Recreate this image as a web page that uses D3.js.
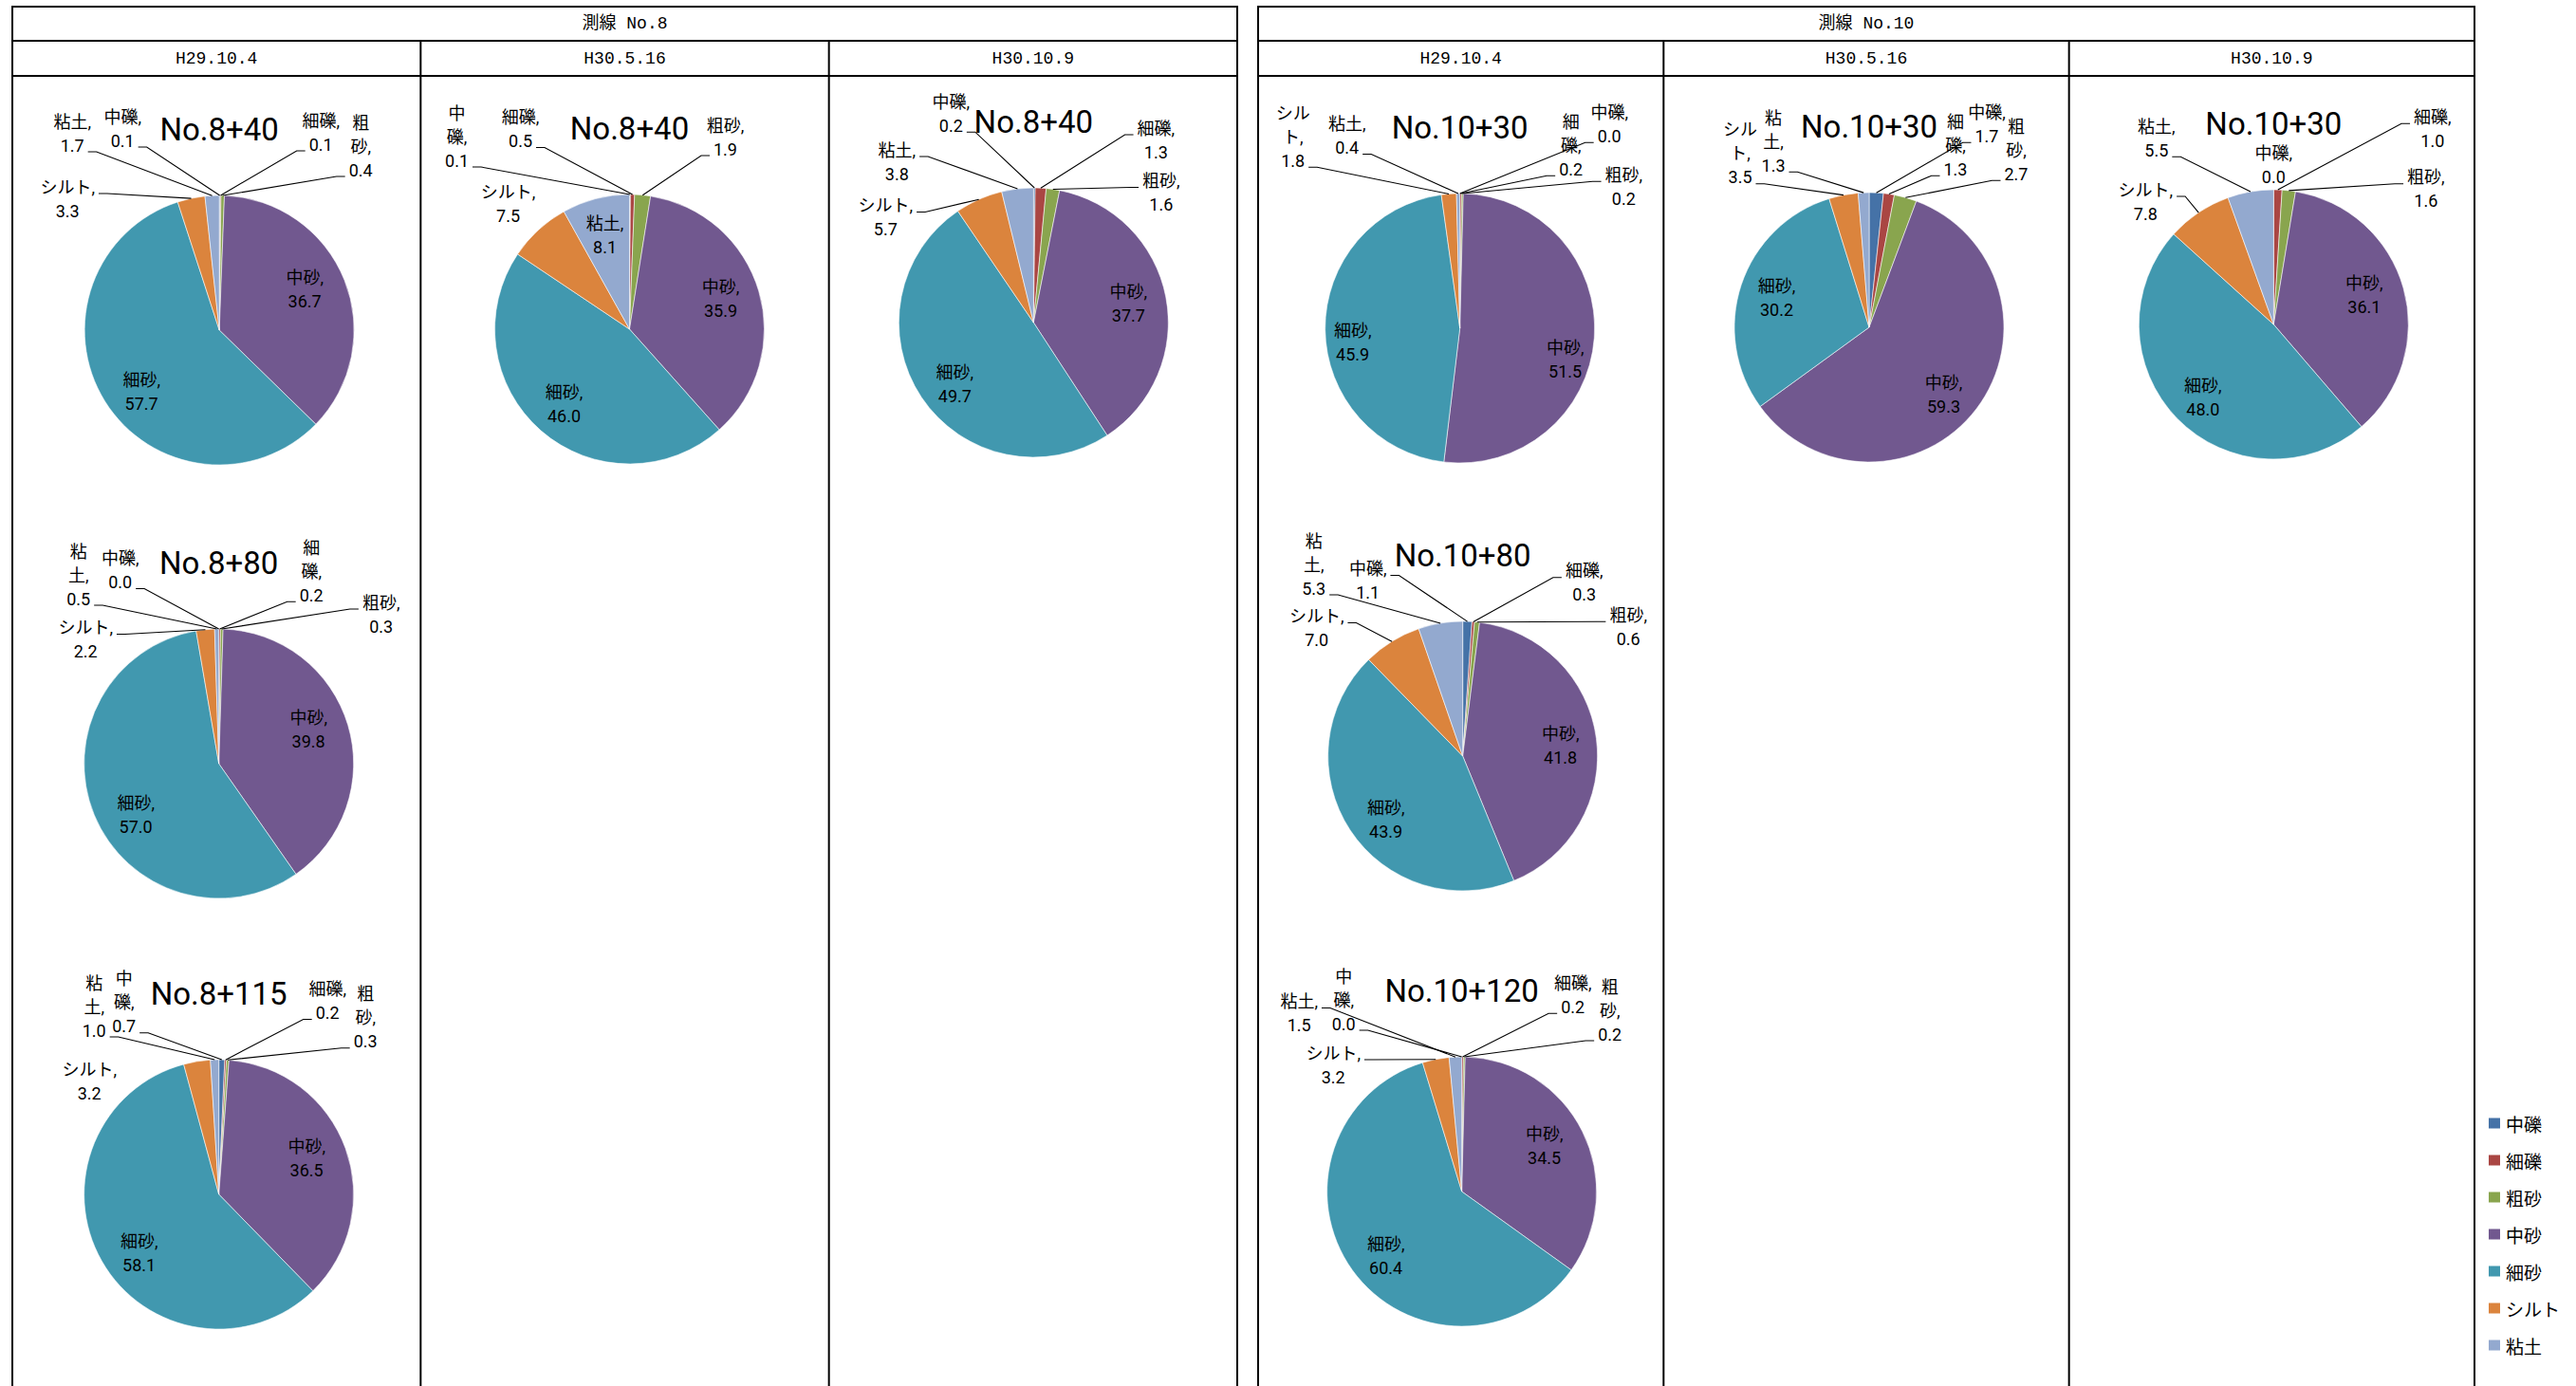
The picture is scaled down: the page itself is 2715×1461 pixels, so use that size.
<!DOCTYPE html>
<html>
<head>
<meta charset="utf-8">
<script src="https://cdn.jsdelivr.net/npm/d3@7"></script>
<style>
  html, body { margin: 0; padding: 0; background: #fff; }
  svg { display: block; }
</style>
</head>
<body>
<svg id="chart" width="2715" height="1461"></svg>
<script>
// ---- categories & series ----------------------------------------------
const categories = ['中礫', '細礫', '粗砂', '中砂', '細砂', 'シルト', '粘土'];
const palette    = ['#4572A7', '#AA4643', '#89A54E', '#71588F', '#4198AF', '#DB843D', '#93A9CF'];
const lineNames  = ['測線 No.8', '測線 No.10'];
const surveyDates = ['H29.10.4', 'H30.5.16', 'H30.10.9'];

// grain-size composition (%), in category order
const no8_40_h29_10  = [0.1, 0.1, 0.4, 36.7, 57.7, 3.3, 1.7];
const no8_40_h30_05  = [0.1, 0.5, 1.9, 35.9, 46.0, 7.5, 8.1];
const no8_40_h30_10  = [0.2, 1.3, 1.6, 37.7, 49.7, 5.7, 3.8];
const no8_80_h29_10  = [0.0, 0.2, 0.3, 39.8, 57.0, 2.2, 0.5];
const no8_115_h29_10 = [0.7, 0.2, 0.3, 36.5, 58.1, 3.2, 1.0];
const no10_30_h29_10 = [0.0, 0.2, 0.2, 51.5, 45.9, 1.8, 0.4];
const no10_30_h30_05 = [1.7, 1.3, 2.7, 59.3, 30.2, 3.5, 1.3];
const no10_30_h30_10 = [0.0, 1.0, 1.6, 36.1, 48.0, 7.8, 5.5];
const no10_80_h29_10 = [1.1, 0.3, 0.6, 41.8, 43.9, 7.0, 5.3];
const no10_120_h29_10 = [0.0, 0.2, 0.2, 34.5, 60.4, 3.2, 1.5];

// ---- label placement (offset from pie centre, wrap name?, leader line row; -1 = no leader)
const lab_no8_40_h29_10 = [[-102,-212.5,0,1],[107,-208.5,0,1],[149,-194,1,2],[90,-43,0,-1],[-82,65,0,-1],[-160,-138.5,0,0],[-155,-207.5,0,1]];
const lab_no8_40_h30_05 = [[-182,-203,1,2],[-115,-211,0,1],[101,-202.5,0,1],[96,-32,0,-1],[-69,79,0,-1],[-128,-132,0,-1],[-26,-99.5,0,-1]];
const lab_no8_40_h30_10 = [[-87,-220.3,0,1],[129,-192.5,0,0],[134.5,-137,0,0],[100,-20.5,0,-1],[-83,65,0,-1],[-156,-111,0,0],[-144,-169.5,0,0]];
const lab_no8_80_h29_10 = [[-104,-204,0,1],[97.5,-202.7,1,2],[171,-157.5,0,0],[94.5,-36,0,-1],[-87.5,54,0,-1],[-140.5,-131,0,0],[-148,-199,1,2]];
const lab_no8_115_h29_10 = [[-100,-202.3,1,2],[114.5,-204,0,1],[154.5,-186.3,1,2],[92.5,-38,0,-1],[-84,62,0,-1],[-136.5,-119,0,-1],[-131.5,-198,1,2]];
const lab_no10_30_h29_10 = [[157.5,-215.2,0,1],[117,-192.7,1,2],[172.7,-149.3,0,0],[111,33,0,-1],[-113,15,0,-1],[-176,-201.7,1,2],[-119,-203,0,1]];
const lab_no10_30_h30_05 = [[124,-214.2,0,1],[91,-191.7,1,2],[155,-186.7,1,2],[78.5,71,0,-1],[-97.5,-31,0,-1],[-136,-183.3,1,2],[-101,-195.8,1,2]];
const lab_no10_30_h30_10 = [[0,-167.8,0,-1],[167.5,-206.2,0,0],[160.5,-142.8,0,0],[95.5,-31,0,-1],[-74.5,77,0,-1],[-135,-129.5,0,0],[-123.5,-196.2,0,1]];
const lab_no10_80_h29_10 = [[-100,-185,0,0],[128,-182.8,0,0],[174.5,-136.2,0,0],[103,-11,0,-1],[-81,67,0,-1],[-154,-135,0,0],[-157,-202,1,2]];
const lab_no10_120_h29_10 = [[-124.5,-202,1,2],[117,-207.2,0,1],[156,-191,1,2],[87,-48.5,0,-1],[-80,68,0,-1],[-135.5,-133.5,0,0],[-171.5,-188,0,0]];

// one entry per pie: survey line, date column, row, nudge of the pie centre
const charts = [
  { title: 'No.8+40',   line: 0, col: 0, row: 0, shift: [3, 3],    values: no8_40_h29_10,  labels: lab_no8_40_h29_10 },
  { title: 'No.8+40',   line: 0, col: 1, row: 0, shift: [5, 2],    values: no8_40_h30_05,  labels: lab_no8_40_h30_05 },
  { title: 'No.8+40',   line: 0, col: 2, row: 0, shift: [0.5, -5], values: no8_40_h30_10,  labels: lab_no8_40_h30_10 },
  { title: 'No.8+80',   line: 0, col: 0, row: 1, shift: [2.5, 4],  values: no8_80_h29_10,  labels: lab_no8_80_h29_10 },
  { title: 'No.8+115',  line: 0, col: 0, row: 2, shift: [2.5, 2],  values: no8_115_h29_10, labels: lab_no8_115_h29_10 },
  { title: 'No.10+30',  line: 1, col: 0, row: 0, shift: [-1, 1],   values: no10_30_h29_10, labels: lab_no10_30_h29_10 },
  { title: 'No.10+30',  line: 1, col: 1, row: 0, shift: [3, 0],    values: no10_30_h30_05, labels: lab_no10_30_h30_05 },
  { title: 'No.10+30',  line: 1, col: 2, row: 0, shift: [2, -3],   values: no10_30_h30_10, labels: lab_no10_30_h30_10 },
  { title: 'No.10+80',  line: 1, col: 0, row: 1, shift: [2, -4],   values: no10_80_h29_10, labels: lab_no10_80_h29_10 },
  { title: 'No.10+120', line: 1, col: 0, row: 2, shift: [1, -1],   values: no10_120_h29_10, labels: lab_no10_120_h29_10 }
];

// ---- layout ----------------------------------------------------------------
const W = 2715, H = 1461;
const tables = [{ x0: 13, x1: 1304 }, { x0: 1326, x1: 2608 }];
const yTop = 7, yHead = 43, yDate = 80;
const rowY = [345, 801, 1257];
const R = 142;
const LH = 25;
const labelFont = 'Roboto, "Noto Sans CJK JP", sans-serif';
const headFont = '"Liberation Mono", "Noto Sans CJK JP", monospace';

const svg = d3.select('#chart');
svg.append('rect').attr('width', W).attr('height', H).attr('fill', '#fff');

const color = d3.scaleOrdinal().domain(categories).range(palette);

// ---- table frames and headings ---------------------------------------------
tables.forEach((t, ti) => {
  const g = svg.append('g').attr('stroke', '#000').attr('stroke-width', 2);
  const colW = (t.x1 - t.x0) / 3;
  g.append('line').attr('x1', t.x0 - 1).attr('x2', t.x1 + 1).attr('y1', yTop).attr('y2', yTop);
  g.append('line').attr('x1', t.x0).attr('x2', t.x1).attr('y1', yHead).attr('y2', yHead);
  g.append('line').attr('x1', t.x0).attr('x2', t.x1).attr('y1', yDate).attr('y2', yDate);
  g.append('line').attr('x1', t.x0).attr('x2', t.x0).attr('y1', yTop).attr('y2', H);
  g.append('line').attr('x1', t.x1).attr('x2', t.x1).attr('y1', yTop).attr('y2', H);
  for (let k = 1; k < 3; k++) {
    const x = t.x0 + colW * k;
    g.append('line').attr('x1', x).attr('x2', x).attr('y1', yHead).attr('y2', H);
  }
  svg.append('text')
    .attr('x', (t.x0 + t.x1) / 2).attr('y', (yTop + yHead) / 2)
    .attr('text-anchor', 'middle').attr('dominant-baseline', 'central')
    .attr('font-family', headFont).attr('font-size', 18)
    .text(lineNames[ti]);
  surveyDates.forEach((d, k) => {
    svg.append('text')
      .attr('x', t.x0 + colW * (k + 0.5)).attr('y', (yHead + yDate) / 2)
      .attr('text-anchor', 'middle').attr('dominant-baseline', 'central')
      .attr('font-family', headFont).attr('font-size', 18)
      .text(d);
  });
});

// ---- pies -------------------------------------------------------------------
const pie = d3.pie().sort(null).value(d => d).startAngle(0).endAngle(2 * Math.PI);
const arc = d3.arc().innerRadius(0).outerRadius(R);

charts.forEach(c => {
  const t = tables[c.line];
  const colW = (t.x1 - t.x0) / 3;
  const cx = t.x0 + colW * (c.col + 0.5) + c.shift[0];
  const cy = rowY[c.row] + c.shift[1];
  const g = svg.append('g').attr('transform', `translate(${cx},${cy})`);
  const arcs = pie(c.values);

  g.selectAll('path.slice').data(arcs).join('path')
    .attr('class', 'slice')
    .attr('d', arc)
    .attr('fill', (d, i) => color(categories[i]))
    .attr('stroke', '#ffffff').attr('stroke-width', 0.7).attr('stroke-opacity', 0.8);

  g.append('text')
    .attr('x', 0).attr('y', -200)
    .attr('text-anchor', 'middle')
    .attr('font-family', labelFont).attr('font-size', 33)
    .attr('fill', '#000')
    .text(c.title);

  arcs.forEach((a, i) => {
    const [dx, dy, wrap, att] = c.labels[i];
    const name = categories[i];
    let lines;
    if (wrap) {
      const k = Math.ceil(name.length / 2);
      lines = [name.slice(0, k), name.slice(k) + ','];
    } else {
      lines = [name + ','];
    }
    lines.push(c.values[i].toFixed(1));
    const n = lines.length;

    const txt = g.append('text')
      .attr('font-family', labelFont).attr('font-size', 18)
      .attr('text-anchor', 'middle').attr('fill', '#000');
    const spans = lines.map((s, j) =>
      txt.append('tspan')
        .attr('x', dx)
        .attr('y', dy + (j - (n - 1) / 2) * LH)
        .attr('dominant-baseline', 'central')
        .text(s));

    if (att >= 0) {
      const mid = (a.startAngle + a.endAngle) / 2;
      const ex = R * Math.sin(mid), ey = -R * Math.cos(mid);
      const w = spans[att].node().getComputedTextLength();
      const ly = dy + (att - (n - 1) / 2) * LH + 7;
      const side = ex > dx ? 1 : -1;
      const ax = dx + side * (w / 2 + 4);
      const sx = ax + side * 9;
      g.append('path')
        .attr('d', `M${ax},${ly}L${sx},${ly}L${ex},${ey}`)
        .attr('fill', 'none').attr('stroke', '#000').attr('stroke-width', 1.1);
    }
  });
});

// ---- legend -----------------------------------------------------------------
const legend = svg.append('g').attr('transform', 'translate(2623,1184)');
categories.forEach((cat, i) => {
  const y = i * 39;
  legend.append('rect')
    .attr('x', 0).attr('y', y - 5.5).attr('width', 12).attr('height', 11)
    .attr('fill', color(cat));
  legend.append('text')
    .attr('x', 18).attr('y', y)
    .attr('dominant-baseline', 'central')
    .attr('font-family', '"Noto Sans CJK JP", sans-serif').attr('font-size', 19)
    .text(cat);
});
</script>
</body>
</html>
